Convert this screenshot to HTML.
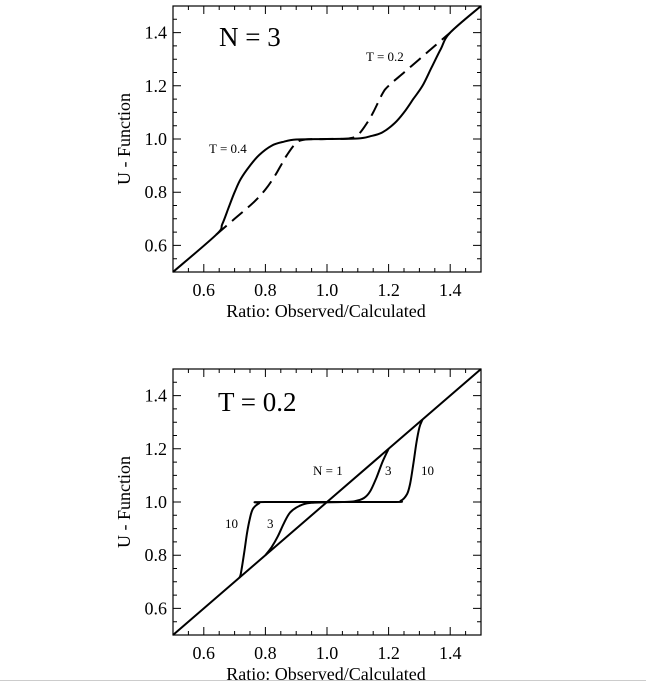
<!DOCTYPE html>
<html><head><meta charset="utf-8"><style>
body{margin:0;background:#fff;}
svg{display:block;font-family:"Liberation Serif",serif;}
</style></head><body>
<svg id="c" width="646" height="683" viewBox="0 0 646 683">
<line x1="0" y1="680.5" x2="646" y2="680.5" stroke="#ccc" stroke-width="1"/>
</svg>
<script>
// Panel 1 (N = 3)
const p1SolidX = [0.5,0.64,0.66,0.68,0.70,0.72,0.75,0.78,0.82,0.86,0.90,1.0,1.10,1.14,1.18,1.22,1.25,1.28,1.31,1.34,1.37,1.40,1.5];
const p1SolidY = [0.5,0.64,0.68,0.74,0.80,0.85,0.90,0.94,0.975,0.99,0.998,1.0,1.002,1.01,1.025,1.06,1.10,1.15,1.20,1.27,1.34,1.40,1.5];
const p1DashX = [0.64,0.70,0.76,0.80,0.83,0.85,0.87,0.90,0.93,1.0,1.07,1.10,1.13,1.15,1.18,1.20,1.25,1.30,1.35,1.40];
const p1DashY = [0.64,0.70,0.76,0.81,0.86,0.90,0.94,0.985,0.998,1.0,1.002,1.015,1.06,1.10,1.17,1.20,1.25,1.30,1.35,1.40];
// Panel 2 (T = 0.2)
const p2DiagX = [0.5,1.5];
const p2DiagY = [0.5,1.5];
const p2N3X = [0.80,0.82,0.84,0.86,0.88,0.91,0.95,1.05,1.09,1.12,1.14,1.16,1.18,1.20];
const p2N3Y = [0.80,0.83,0.87,0.92,0.96,0.985,0.997,1.0,1.003,1.015,1.04,1.09,1.15,1.20];
const p2N10X = [0.715,0.72,0.73,0.74,0.75,0.76,0.78,0.80,1.20,1.24,1.26,1.27,1.28,1.29,1.30,1.31];
const p2N10Y = [0.715,0.73,0.80,0.88,0.94,0.975,0.995,1.0,1.0,1.005,1.03,1.07,1.14,1.22,1.28,1.31];
const xTicks = [0.6,0.8,1.0,1.2,1.4];
const xTickLabels = ["0.6","0.8","1.0","1.2","1.4"];
const yTicks = [0.6,0.8,1.0,1.2,1.4];
const yTickLabels = ["0.6","0.8","1.0","1.2","1.4"];

const NS="http://www.w3.org/2000/svg";
const svg=document.getElementById('c');
function mk(tag,attrs,parent,text){const e=document.createElementNS(NS,tag);for(const k in attrs)e.setAttribute(k,attrs[k]);if(text!==undefined)e.textContent=text;(parent||svg).appendChild(e);return e;}

function panel(top,name){
  const L=173,R=481,T=top,B=top+266;
  const sx=v=>L+(v-0.5)*(R-L);
  const sy=v=>B-(v-0.5)*(B-T);
  const g=mk('g',{});
  
  
  const fr=mk('rect',{x:L,y:T,width:R-L,height:B-T,fill:'none',stroke:'#000','stroke-width':1.2},g);
  
  
  let d='';
  for(let i=0;i<=20;i++){
    const v=0.5+i*0.05; const maj=(i%4===2); const len=maj?8:4;
    const x=sx(v), y=sy(v);
    d+=`M${x},${B}v${-len}M${x},${T}v${len}M${L},${y}h${len}M${R},${y}h${-len}`;
  }
  const tk=mk('path',{d:d,stroke:'#000','stroke-width':1,fill:'none'},g);
  
  
  xTicks.forEach((v,i)=>{
    const t=mk('text',{x:sx(v),y:B+24,'text-anchor':'middle','font-size':18},g,xTickLabels[i]);
    
    
  });
  yTicks.forEach((v,i)=>{
    const t=mk('text',{x:L-6,y:sy(v)+6,'text-anchor':'end','font-size':18},g,yTickLabels[i]);
    
    
  });
  const xt=mk('text',{x:326,y:B+45,'text-anchor':'middle','font-size':18},g,'Ratio: Observed/Calculated');
  
  
  const cy=(T+B)/2;
  const yt=mk('text',{x:0,y:0,'text-anchor':'middle','font-size':18,transform:`translate(130,${cy}) rotate(-90)`},g,'U - Function');
  
  
  return {g,sx,sy};
}
function line(p,xs,ys,dash,nm){
  const P=xs.map((x,i)=>[p.sx(x),p.sy(ys[i])]);
  let d=`M${P[0][0].toFixed(1)},${P[0][1].toFixed(1)}`;
  for(let i=0;i<P.length-1;i++){
    const p0=P[Math.max(0,i-1)],p1=P[i],p2=P[i+1],p3=P[Math.min(P.length-1,i+2)];
    const c1x=p1[0]+(p2[0]-p0[0])/6,c1y=p1[1]+(p2[1]-p0[1])/6;
    const c2x=p2[0]-(p3[0]-p1[0])/6,c2y=p2[1]-(p3[1]-p1[1])/6;
    d+=`C${c1x.toFixed(1)},${c1y.toFixed(1)} ${c2x.toFixed(1)},${c2y.toFixed(1)} ${p2[0].toFixed(1)},${p2[1].toFixed(1)}`;
  }
  const a={d:d,fill:'none',stroke:'#000','stroke-width':2,'stroke-linejoin':'round'};
  if(dash)a['stroke-dasharray']='14,7';
  const e=mk('path',a,p.g);
  
  
}
function label(p,x,y,size,txt,nm){
  const e=mk('text',{x:x,y:y,'font-size':size},p.g,txt);
  
  
}
const A=panel(6,'panel-n3');
line(A,p1SolidX,p1SolidY,false,'curve-t04');
line(A,p1DashX,p1DashY,true,'curve-t02');
label(A,219,46,27,'N = 3','panel-title');
label(A,366,61,13,'T = 0.2','label-t02');
label(A,209,153,13,'T = 0.4','label-t04');

const Bp=panel(369,'panel-t02');
line(Bp,p2DiagX,p2DiagY,false,'curve-n1');
line(Bp,p2N3X,p2N3Y,false,'curve-n3');
line(Bp,p2N10X,p2N10Y,false,'curve-n10');
label(Bp,218,411,27,'T = 0.2','panel-title');
label(Bp,313,475,13,'N = 1','label-n1');
label(Bp,385,475,13,'3','label-n3-right');
label(Bp,421,475,13,'10','label-n10-right');
label(Bp,225,528,13,'10','label-n10-left');
label(Bp,267,528,13,'3','label-n3-left');
</script>
</body></html>
